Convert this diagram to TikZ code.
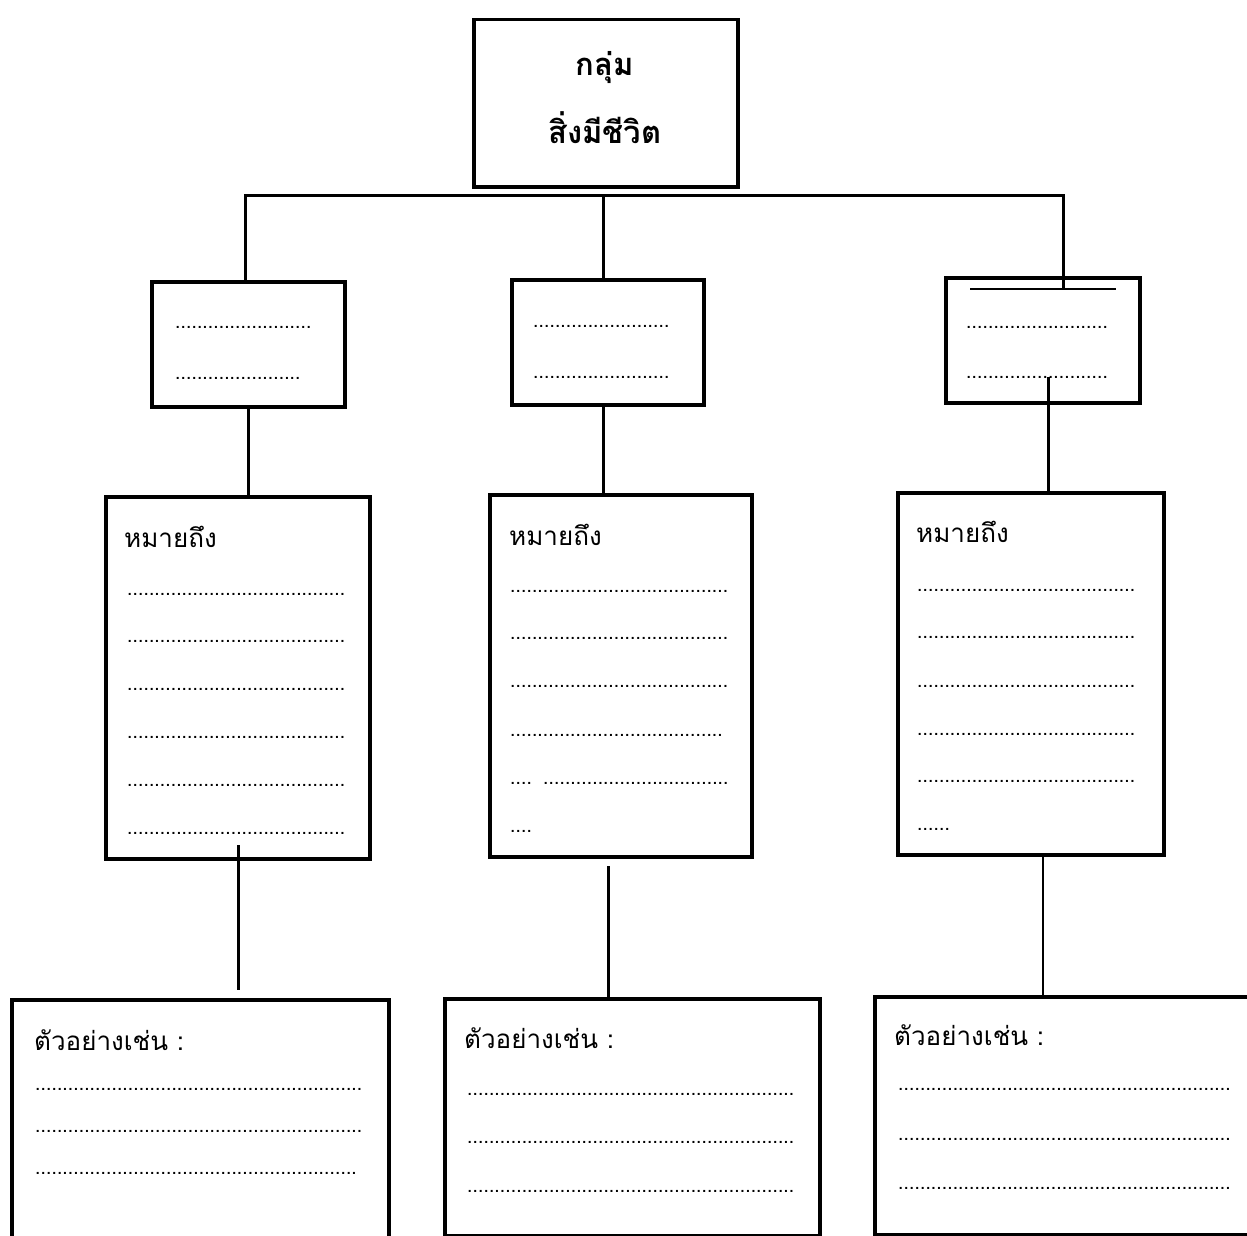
\documentclass[tikz,border=0pt]{standalone}
\usepackage{fontspec}
\setmainfont{Liberation Sans}
\newfontfamily\thaifont[Script=Thai]{Loma}
\newcommand\dotrow[1]{\hbox to #1pt{\leaders\hbox to 5.45pt{\hss\bfseries.\hss}\hfill}}
\begin{document}
\begin{tikzpicture}[x=1pt,y=-1pt,
  box/.style={draw,line width=3.5pt,rectangle,anchor=north west,inner sep=0pt},
  conn/.style={line width=3pt},
  dots/.style={anchor=base west,inner sep=0pt,font=\fontsize{14}{14}\selectfont},
  lbl/.style={anchor=west,inner sep=0pt,font=\thaifont\fontsize{26}{26}\selectfont},
  ttl/.style={inner sep=0pt,font=\thaifont\bfseries\fontsize{31}{31}\selectfont}]
\useasboundingbox (0,0) rectangle (1247,1236);
\fill[white] (0,0) rectangle (1247,1236);
% top
\node[box,minimum width=264pt,minimum height=167pt] (T) at (472,18) {};
\node[ttl] (t1) at (605,68) {กลุ่ม};
\node[ttl] (t2) at (605,128) {สิ่งมีชีวิต};
% small boxes
\node[box,minimum width=193pt,minimum height=125pt] (L1) at (150,280) {};
\node[box,minimum width=192pt,minimum height=125pt] (M1) at (510,278) {};
\node[box,minimum width=194pt,minimum height=125pt] (R1) at (944,276) {};
% large boxes
\node[box,minimum width=264pt,minimum height=362pt] (L2) at (104,495) {};
\node[box,minimum width=262pt,minimum height=362pt] (M2) at (488,493) {};
\node[box,minimum width=266pt,minimum height=362pt] (R2) at (896,491) {};
% bottom boxes
\node[box,minimum width=377pt,minimum height=250pt] (L3) at (10,998) {};
\node[box,minimum width=375pt,minimum height=237pt] (M3) at (443,997) {};
\node[box,minimum width=380pt,minimum height=238pt] (R3) at (873,995) {};
% tree connectors
\coordinate (hub) at (603,195);
\coordinate (xl) at (245,195);
\coordinate (xr) at (1063,195);
\draw[conn] (xl |- L1.north) -- (xl) -- (xr) -- (1063,290) coordinate (rin);
\draw[conn] (hub) -- (hub |- M1.north);
\draw[line width=1.3pt] (970,289) -- (1116,289);
\draw[conn] (248,405) coordinate (c1) -- (c1 |- L2.north);
\draw[conn] (603,403) coordinate (c2) -- (c2 |- M2.north);
\draw[conn] (1048,377) coordinate (c3) -- (c3 |- R2.north);
\draw[conn] (238,845) coordinate (d1) -- (238,990);
\draw[conn] (608,866) coordinate (d2) -- (d2 |- M3.north);
\draw[line width=2.2pt] (1043,853) coordinate (d3) -- (d3 |- R3.north);
% small box dots
\node[dots] at (175,328) {\dotrow{140}};
\node[dots] at (175,379) {\dotrow{128}};
\node[dots] at (533,327) {\dotrow{140}};
\node[dots] at (533,378) {\dotrow{140}};
\node[dots] at (966,328) {\dotrow{144}};
\node[dots] at (966,378) {\dotrow{144}};
% large box labels
\node[lbl] at (124,537) {หมายถึง};
\node[lbl] at (509,535) {หมายถึง};
\node[lbl] at (916,532) {หมายถึง};
\foreach \y in {595,642,690,738,786,834} \node[dots] at (127,\y) {\dotrow{220}};
\foreach \y in {592,639,687} \node[dots] at (510,\y) {\dotrow{220}};
\node[dots] at (510,736) {\dotrow{213}};
\node[dots] at (510,784) {\dotrow{27}};
\node[dots] at (543,784) {\dotrow{186}};
\node[dots] at (510,832) {\dotrow{22}};
\foreach \y in {591,638,687,735,782} \node[dots] at (917,\y) {\dotrow{223}};
\node[dots] at (917,830) {\dotrow{33}};
% bottom labels
\node[lbl] at (34,1040) {ตัวอย่างเช่น :};
\node[lbl] at (464,1038) {ตัวอย่างเช่น :};
\node[lbl] at (894,1035) {ตัวอย่างเช่น :};
\node[dots] at (35,1090) {\dotrow{329}};
\node[dots] at (35,1132) {\dotrow{329}};
\node[dots] at (35,1174) {\dotrow{323}};
\foreach \y in {1095,1143,1192} \node[dots] at (467,\y) {\dotrow{329}};
\foreach \y in {1090,1140,1189} \node[dots] at (898,\y) {\dotrow{333}};
\end{tikzpicture}
\end{document}
